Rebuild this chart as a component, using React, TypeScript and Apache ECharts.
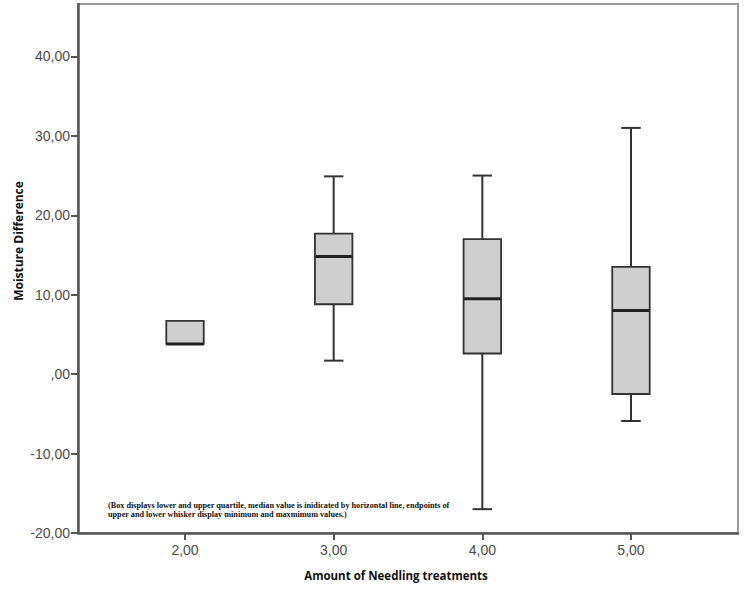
import React, { useEffect, useRef } from "react";
import * as echarts from "echarts";

const categories = [2, 3, 4, 5];
const minValues = [3.8, 1.7, -17.0, -5.9];
const q1Values = [3.8, 8.8, 2.6, -2.5];
const medianValues = [3.8, 14.8, 9.5, 8.0];
const q3Values = [6.7, 17.7, 17.0, 13.5];
const maxValues = [6.7, 24.9, 25.0, 31.0];
const yTicks = [-20, -10, 0, 10, 20, 30, 40];
const xTicks = [2, 3, 4, 5];

const yTitle = "Moisture Difference";
const xTitle = "Amount of Needling treatments";
const noteLines = [
  "(Box displays lower and upper quartile, median value is inidicated by horizontal line, endpoints of",
  "upper and lower whisker display minimum and maxmimum values.)",
];

const fmt = (v: number) => (v === 0 ? ",00" : v.toFixed(2).replace(".", ","));

export default function App() {
  const ref = useRef<HTMLDivElement>(null);
  useEffect(() => {
    if (!ref.current) return;
    const chart = echarts.init(ref.current, null, { renderer: "svg" });
    const data = categories.map((c, i) => [
      c,
      minValues[i],
      q1Values[i],
      medianValues[i],
      q3Values[i],
      maxValues[i],
    ]);
    chart.setOption({
      animation: false,
      backgroundColor: "#ffffff",
      grid: {
        left: 78,
        right: 8,
        top: 4,
        bottom: 66,
        show: true,
        borderColor: "#9a9a9a",
        borderWidth: 2,
        backgroundColor: "transparent",
      },
      xAxis: {
        type: "value",
        min: 1.28,
        max: 5.72,
        splitLine: { show: false },
        axisLine: { onZero: false, lineStyle: { color: "#555", width: 2.5 } },
        axisTick: {
          show: true,
          customValues: xTicks,
          length: 7,
          lineStyle: { color: "#555", width: 2 },
        },
        axisLabel: {
          customValues: xTicks,
          formatter: fmt,
          color: "#4a4a4a",
          fontFamily: "Liberation Sans",
          fontSize: 14,
          margin: 10,
        },
      },
      yAxis: {
        type: "value",
        min: -20,
        max: 46.6,
        splitLine: { show: false },
        axisLine: { show: true, onZero: false, lineStyle: { color: "#555", width: 2.5 } },
        axisTick: {
          show: true,
          customValues: yTicks,
          length: 7,
          lineStyle: { color: "#555", width: 2 },
        },
        axisLabel: {
          customValues: yTicks,
          formatter: fmt,
          color: "#4a4a4a",
          fontFamily: "Liberation Sans",
          fontSize: 14,
          margin: 8,
        },
      },
      series: [
        {
          type: "custom",
          data,
          encode: { x: 0, y: [1, 2, 3, 4, 5] },
          renderItem: (params: any, api: any) => {
            const x = api.value(0);
            const vmin = api.value(1);
            const q1 = api.value(2);
            const med = api.value(3);
            const q3 = api.value(4);
            const vmax = api.value(5);
            const w = api.size([0.252, 0])[0];
            const capW = w * 0.52;
            const pMin = api.coord([x, vmin]);
            const pQ1 = api.coord([x, q1]);
            const pMed = api.coord([x, med]);
            const pQ3 = api.coord([x, q3]);
            const pMax = api.coord([x, vmax]);
            const cx = pMed[0];
            const lineStyle = { stroke: "#333", lineWidth: 2 };
            const children: any[] = [];
            if (vmax > q3) {
              children.push({
                type: "line",
                shape: { x1: cx, y1: pMax[1], x2: cx, y2: pQ3[1] },
                style: lineStyle,
              });
              children.push({
                type: "line",
                shape: { x1: cx - capW / 2, y1: pMax[1], x2: cx + capW / 2, y2: pMax[1] },
                style: lineStyle,
              });
            }
            if (vmin < q1) {
              children.push({
                type: "line",
                shape: { x1: cx, y1: pMin[1], x2: cx, y2: pQ1[1] },
                style: lineStyle,
              });
              children.push({
                type: "line",
                shape: { x1: cx - capW / 2, y1: pMin[1], x2: cx + capW / 2, y2: pMin[1] },
                style: lineStyle,
              });
            }
            children.push({
              type: "rect",
              shape: { x: cx - w / 2, y: pQ3[1], width: w, height: pQ1[1] - pQ3[1] },
              style: { fill: "#cfcfcf", stroke: "#333", lineWidth: 1.8 },
            });
            children.push({
              type: "line",
              shape: { x1: cx - w / 2, y1: pMed[1], x2: cx + w / 2, y2: pMed[1] },
              style: { stroke: "#222", lineWidth: 3 },
            });
            return { type: "group", children };
          },
        },
      ],
      graphic: [
        {
          type: "text",
          x: 18,
          y: 241,
          rotation: Math.PI / 2,
          style: {
            text: yTitle,
            fill: "#111",
            font: "bold 12px 'Open Sans'",
            align: "center",
            verticalAlign: "middle",
          },
        },
        {
          type: "text",
          x: 396,
          y: 575,
          style: {
            text: xTitle,
            fill: "#111",
            font: "bold 11.5px 'Open Sans'",
            align: "center",
            verticalAlign: "middle",
          },
        },
        {
          type: "text",
          x: 108,
          y: 505,
          style: {
            text: noteLines[0],
            fill: "#111",
            font: "bold 8.2px 'Liberation Serif'",
            verticalAlign: "middle",
          },
        },
        {
          type: "text",
          x: 108,
          y: 514,
          style: {
            text: noteLines[1],
            fill: "#111",
            font: "bold 8.2px 'Liberation Serif'",
            verticalAlign: "middle",
          },
        },
      ],
    });
    return () => chart.dispose();
  }, []);
  return <div ref={ref} style={{ width: 746, height: 599, position: "absolute", left: 0, top: 0 }} />;
}
